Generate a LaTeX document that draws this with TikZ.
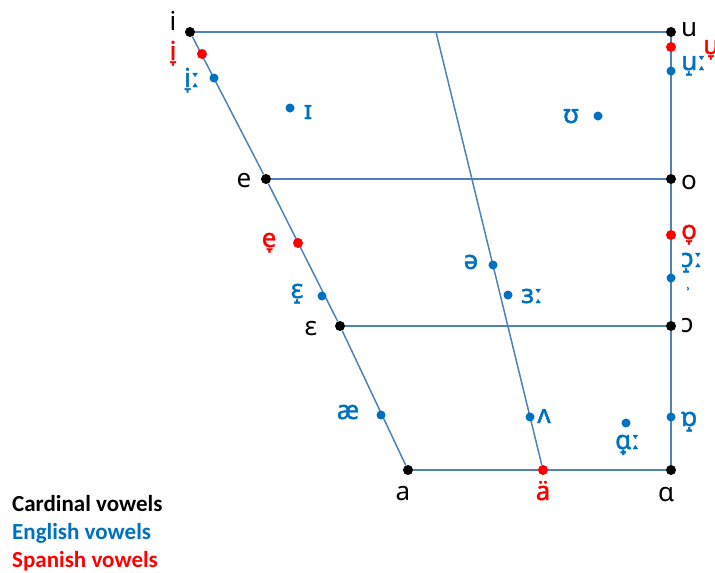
\documentclass[tikz,border=0pt]{standalone}
\usepackage{fontspec}
\setmainfont{Carlito}
\newfontfamily\ipafont{Noto Sans}
\newfontfamily\ipabold{Noto Sans}[FakeBold=1.6]
\usetikzlibrary{positioning}
\usetikzlibrary{backgrounds}
\definecolor{chartline}{RGB}{79,129,189}
\definecolor{engblue}{RGB}{0,112,192}
\definecolor{spared}{RGB}{255,0,0}

\begin{document}
\begin{tikzpicture}[x=1pt,y=-1pt,
  card/.style={circle,fill=black,inner sep=0pt,minimum size=10pt},
  eng/.style={circle,fill=engblue,inner sep=0pt,minimum size=9pt},
  spa/.style={circle,fill=spared,inner sep=0pt,minimum size=10pt},
  cardlab/.style={font=\ipafont\fontsize{26}{28}\selectfont,text=black,inner sep=0pt},
  englab/.style={font=\ipabold\fontsize{26}{28}\selectfont,text=engblue,inner sep=0pt},
  spalab/.style={font=\ipabold\fontsize{26}{28}\selectfont,text=spared,inner sep=0pt},
  legend/.style={font=\bfseries\fontsize{23}{26}\selectfont,anchor=base west,inner sep=0pt},
  chart/.style={chartline,line width=1.5pt}]
\useasboundingbox (0,0) rectangle (715,573);

% cardinal vowels
\node[card] (ci) at (190,32) {};
\node[card] (cu) at (671,32) {};
\node[card] (ce) at (266,179) {};
\node[card] (co) at (671,179) {};
\node[card] (ceps) at (340,326) {};
\node[card] (copen) at (671,326) {};
\node[card] (ca) at (408,470) {};
\node[card] (calpha) at (671,470) {};
\coordinate (top) at (436,32);

% spanish vowels
\node[spa] (si) at (202,54) {};
\node[spa] (su) at (671,47) {};
\node[spa] (se) at (298,243) {};
\node[spa] (so) at (671,235) {};
\node[spa] (sa) at (543,470) {};

% english vowels
\node[eng] (ei) at (214,78) {};
\node[eng] (eu) at (671,71) {};
\node[eng] (ekit) at (290,108) {};
\node[eng] (efoot) at (598,116) {};
\node[eng] (eeps) at (322,296) {};
\node[eng] (eschwa) at (493,265) {};
\node[eng] (enurse) at (508,295) {};
\node[eng] (eopen) at (671,278) {};
\node[eng] (eash) at (381,415) {};
\node[eng] (estrut) at (530,417) {};
\node[eng] (elot) at (671,417) {};
\node[eng] (epalm) at (626,423) {};

\begin{scope}[on background layer]
\draw[chart] (ci) -- (cu);
\draw[chart] (ce) -- (co);
\draw[chart] (ceps) -- (copen);
\draw[chart] (ca) -- (calpha);
\draw[chart] (ci) -- (ce) -- (ceps) -- (ca);
\draw[chart] (cu) -- (co) -- (copen) -- (calpha);
\draw[chart] (top) -- (sa);
\end{scope}

\node[cardlab,anchor=base] (li) at (173,30) {i};
\node[cardlab,anchor=base west] (lu) at (681,36) {u};
\node[cardlab,anchor=base] (le) at (244,187) {e};
\node[cardlab,anchor=base west] (lo) at (681,189) {o};
\node[cardlab,anchor=base] (leps) at (311,335) {ɛ};
\node[cardlab,anchor=base west] (lopen) at (681,332) {ɔ};
\node[cardlab,anchor=base] (la) at (403,500) {a};
\node[cardlab,anchor=base] (lalpha) at (666,501) {ɑ};

\node[spalab,anchor=base] (lsi) at (173,60) {i̞};
\node[spalab,anchor=base west] (lsu) at (703,54) {u̞};
\node[spalab,anchor=base] (lse) at (269,247) {e̞};
\node[spalab,anchor=base west] (lso) at (681,239) {o̞};
\node[spalab,anchor=base] (lsa) at (543,500) {ä};

\node[englab,anchor=base west] (lei) at (184,87) {i̞ː};
\node[englab,anchor=base west] (leu) at (681,70) {u̝ː};
\node[englab,anchor=base] (lekit) at (308,119) {ɪ};
\node[englab,anchor=base] (lefoot) at (571,123) {ʊ};
\node[englab,anchor=base] (leeps) at (297,298) {ɛ̝};
\node[englab,anchor=base] (leschwa) at (471,269) {ə};
\node[englab,anchor=base west] (lenurse) at (521,303) {ɜː};
\node[englab,anchor=base west] (leopen) at (681,267) {ɔ̝ː};
\node[englab,font=\ipabold\fontsize{14}{16}\selectfont] (lemark) at (688,290) {˒};
\node[englab,anchor=base] (leash) at (348,419) {æ};
\node[englab,anchor=base] (lestrut) at (544,423) {ʌ};
\node[englab,anchor=base west] (lelot) at (681,426) {ɒ̝};
\node[englab,anchor=base west] (lepalm) at (615,449) {ɑ̟ː};

\node[legend,text=black] (key1) at (12,511) {Cardinal vowels};
\node[legend,text=engblue] (key2) at (12,539) {English vowels};
\node[legend,text=spared] (key3) at (12,567) {Spanish vowels};

\end{tikzpicture}
\end{document}
